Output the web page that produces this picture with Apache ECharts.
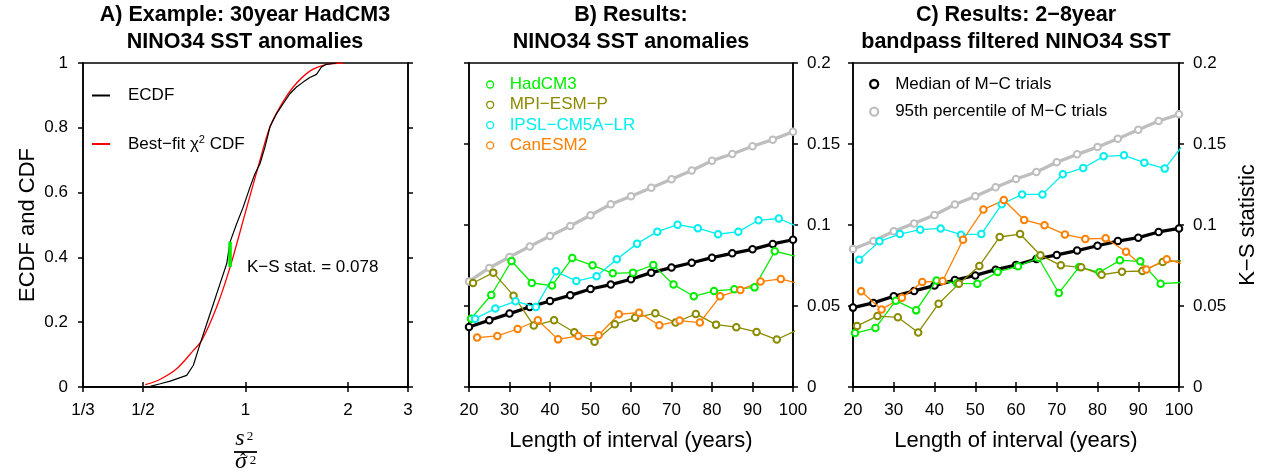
<!DOCTYPE html>
<html>
<head>
<meta charset="utf-8">
<script src="https://cdn.jsdelivr.net/npm/echarts@6/dist/echarts.min.js"></script>
<style>
  html, body { margin: 0; padding: 0; background: #fff; }
  #chart { width: 1267px; height: 474px; }
</style>
</head>
<body>
<div id="chart"></div>
<script>
// ---- panel A: ECDF vs best-fit chi^2 CDF (30 yr HadCM3) ----
const ecdfX = [0.525, 0.562, 0.601, 0.643, 0.672, 0.703, 0.736, 0.770, 0.805, 0.842, 0.881, 0.901, 0.942, 0.985, 1.031, 1.066, 1.103, 1.141, 1.180, 1.234, 1.291, 1.350, 1.412, 1.477, 1.545, 1.616, 1.672, 1.729, 1.850]
const ecdfY = [0.002, 0.010, 0.018, 0.029, 0.036, 0.067, 0.134, 0.196, 0.257, 0.319, 0.381, 0.448, 0.504, 0.556, 0.617, 0.658, 0.689, 0.741, 0.803, 0.844, 0.875, 0.905, 0.926, 0.941, 0.955, 0.965, 0.988, 0.996, 1.000]
const cdfX = [0.508, 0.562, 0.629, 0.703, 0.744, 0.823, 0.901, 0.997, 1.103, 1.180, 1.262, 1.381, 1.545, 1.729, 1.935]
const cdfY = [0.007, 0.024, 0.057, 0.113, 0.144, 0.247, 0.370, 0.535, 0.700, 0.803, 0.864, 0.926, 0.975, 0.996, 1.000]
const ksX = 0.901
const ksY = [0.370, 0.448]
const ksStat = 0.078
const xTicksA = [1 / 3, 1 / 2, 1, 2, 3]
const xTickLabelsA = ['1/3', '1/2', '1', '2', '3']

// ---- panels B and C: K-S statistic vs interval length ----
const lengths = [20, 25, 30, 35, 40, 45, 50, 55, 60, 65, 70, 75, 80, 85, 90, 95, 100]
const models = ['HadCM3', 'MPI−ESM−P', 'IPSL−CM5A−LR', 'CanESM2']
const modelShift = [0.5, 1, 1.5, 2] // models drawn slightly offset in x
const mcNames = ['Median of M−C trials', '95th percentile of M−C trials']

const medianB = [0.0370, 0.0412, 0.0453, 0.0494, 0.0531, 0.0566, 0.0605, 0.0632, 0.0665, 0.0706, 0.0737, 0.0767, 0.0798, 0.0825, 0.0850, 0.0883, 0.0909]
const pct95B = [0.0652, 0.0735, 0.0802, 0.0868, 0.0932, 0.0994, 0.1060, 0.1128, 0.1177, 0.1230, 0.1282, 0.1337, 0.1397, 0.1438, 0.1486, 0.1527, 0.1576]
const hadB = [0.0422, 0.0568, 0.0778, 0.0642, 0.0626, 0.0796, 0.0751, 0.0702, 0.0706, 0.0753, 0.0632, 0.0560, 0.0593, 0.0603, 0.0615, 0.0838, 0.0808]
const mpiB = [0.0642, 0.0706, 0.0564, 0.0379, 0.0412, 0.0338, 0.0280, 0.0387, 0.0428, 0.0455, 0.0398, 0.0451, 0.0385, 0.0369, 0.0340, 0.0293, 0.0352]
const ipslB = [0.0422, 0.0484, 0.0529, 0.0494, 0.0714, 0.0654, 0.0683, 0.0788, 0.0885, 0.0959, 0.1002, 0.0980, 0.0943, 0.0959, 0.1029, 0.1040, 0.0986]
const canB = [0.0305, 0.0315, 0.0358, 0.0412, 0.0294, 0.0315, 0.0319, 0.0449, 0.0459, 0.0381, 0.0410, 0.0398, 0.0560, 0.0599, 0.0651, 0.0667, 0.0635]

const medianC = [0.0490, 0.0519, 0.0560, 0.0593, 0.0626, 0.0660, 0.0689, 0.0724, 0.0753, 0.0790, 0.0815, 0.0842, 0.0872, 0.0901, 0.0922, 0.0957, 0.0979]
const pct95C = [0.0852, 0.0901, 0.0961, 0.1010, 0.1062, 0.1126, 0.1177, 0.1233, 0.1284, 0.1327, 0.1387, 0.1436, 0.1481, 0.1533, 0.1588, 0.1642, 0.1683]
const hadC = [0.0333, 0.0364, 0.0533, 0.0473, 0.0658, 0.0640, 0.0638, 0.0710, 0.0745, 0.0798, 0.0580, 0.0741, 0.0708, 0.0782, 0.0776, 0.0638, 0.0645]
const mpiC = [0.0377, 0.0438, 0.0430, 0.0337, 0.0514, 0.0638, 0.0747, 0.0926, 0.0944, 0.0813, 0.0751, 0.0739, 0.0693, 0.0712, 0.0716, 0.0772, 0.0780]
const ipslC = [0.0786, 0.0899, 0.0944, 0.0971, 0.0979, 0.0940, 0.0944, 0.1128, 0.1189, 0.1189, 0.1313, 0.1352, 0.1424, 0.1430, 0.1385, 0.1348, 0.1510]
const canC = [0.0591, 0.0479, 0.0551, 0.0648, 0.0654, 0.0909, 0.1095, 0.1154, 0.1031, 0.0998, 0.0942, 0.0914, 0.0918, 0.0835, 0.0726, 0.0788, 0.0753]

const modelColors = ['#00ee00', '#8b8b00', '#00eeee', '#ff7f00']
const mcColors = ['#000000', '#bebebe']

const FONT = '"Liberation Sans", Arial, Helvetica, sans-serif'
const SERIF = '"Liberation Serif", "DejaVu Serif", serif'
const axLine = { show: true, lineStyle: { color: '#000', width: 1.5 } }
const axTick = { show: true, length: 5, lineStyle: { color: '#000', width: 1.5 } }
const lab = { color: '#000', fontSize: 17, fontFamily: FONT }
const fmtNum = v => String(parseFloat(Number(v).toFixed(3)))

function zip(xs, ys) {
  return xs.map((x, i) => [x, ys[i]])
}

function mcSeries(k, vals, xi) {
  return {
    type: 'line', name: mcNames[k], xAxisIndex: xi, yAxisIndex: xi,
    data: zip(lengths, vals),
    symbol: 'emptyCircle', symbolSize: 6.5, z: 2,
    lineStyle: { color: mcColors[k], width: 3.3 },
    itemStyle: { color: mcColors[k], borderColor: mcColors[k], borderWidth: 2.3 }
  }
}

function modelSeries(k, vals, xi) {
  return {
    type: 'line', name: models[k], xAxisIndex: xi, yAxisIndex: xi,
    data: vals.map((v, i) => [lengths[i] + modelShift[k], v]),
    symbol: 'emptyCircle', symbolSize: 6.5, z: 3, clip: true,
    lineStyle: { color: modelColors[k], width: 1.3 },
    itemStyle: { color: modelColors[k], borderColor: modelColors[k], borderWidth: 1.3 }
  }
}

function lenAxis(grid, top) {
  return {
    gridIndex: grid, type: 'value', min: 20, max: 100, interval: 10,
    position: top ? 'top' : 'bottom',
    axisLine: axLine, axisTick: axTick, splitLine: { show: false },
    axisLabel: top ? { show: false } : Object.assign({ margin: 15 }, lab),
    name: top ? '' : 'Length of interval (years)',
    nameLocation: 'middle', nameGap: 43,
    nameTextStyle: { color: '#000', fontSize: 22, fontFamily: FONT }
  }
}

function ksAxis(grid, right, withName) {
  return {
    gridIndex: grid, type: 'value', min: 0, max: 0.2, interval: 0.05,
    position: right ? 'right' : 'left',
    axisLine: axLine, axisTick: axTick, splitLine: { show: false },
    axisLabel: right ? Object.assign({ margin: 14, formatter: fmtNum }, lab) : { show: false },
    name: withName ? 'K−S statistic' : '',
    nameLocation: 'middle', nameRotate: 90, nameGap: 58,
    nameTextStyle: { color: '#000', fontSize: 22, fontFamily: FONT }
  }
}

function ratioAxis(top) {
  return {
    gridIndex: 0, type: 'log', logBase: 3, min: 1 / 3, max: 3,
    position: top ? 'top' : 'bottom',
    axisLine: axLine, splitLine: { show: false }, minorTick: { show: false },
    axisTick: Object.assign({ customValues: xTicksA }, axTick),
    axisLabel: top ? { show: false } : Object.assign({
      margin: 15,
      customValues: xTicksA,
      formatter: v => {
        const i = xTicksA.findIndex(t => Math.abs(t - v) < 1e-6)
        return i >= 0 ? xTickLabelsA[i] : ''
      }
    }, lab)
  }
}

// math-style x label of panel A: s^2 over sigma-hat^2
function mathText(x, y, txt, size, italic) {
  return {
    type: 'text', x: x, y: y,
    style: {
      text: txt, fill: '#000', fontSize: size, fontFamily: SERIF,
      fontStyle: italic ? 'italic' : 'normal', align: 'center', verticalAlign: 'middle'
    }
  }
}

const chart = echarts.init(document.getElementById('chart'), null, { renderer: 'canvas' })

const titleStyle = { color: '#000', fontSize: 21.5, fontWeight: 'bold', lineHeight: 27, fontFamily: FONT }

chart.setOption({
  animation: false,
  backgroundColor: '#fff',
  textStyle: { fontFamily: FONT },
  title: [
    { text: 'A) Example: 30year HadCM3\nNINO34 SST anomalies', left: 245, top: 1.5, textAlign: 'center', padding: 0, textStyle: titleStyle },
    { text: 'B) Results:\nNINO34 SST anomalies', left: 631, top: 1.5, textAlign: 'center', padding: 0, textStyle: titleStyle },
    { text: 'C) Results: 2−8year\nbandpass filtered NINO34 SST', left: 1016, top: 1.5, textAlign: 'center', padding: 0, textStyle: titleStyle }
  ],
  grid: [
    { left: 83, top: 63, width: 325, height: 324, show: true, borderColor: '#000', borderWidth: 1.5, outerBoundsMode: 'none' },
    { left: 469, top: 63, width: 324, height: 324, show: true, borderColor: '#000', borderWidth: 1.5, outerBoundsMode: 'none' },
    { left: 853, top: 63, width: 326, height: 324, show: true, borderColor: '#000', borderWidth: 1.5, outerBoundsMode: 'none' }
  ],
  xAxis: [
    ratioAxis(false), lenAxis(1, false), lenAxis(2, false),
    ratioAxis(true), lenAxis(1, true), lenAxis(2, true)
  ],
  yAxis: [
    {
      gridIndex: 0, type: 'value', min: 0, max: 1, interval: 0.2,
      axisLine: axLine, axisTick: axTick, splitLine: { show: false },
      axisLabel: Object.assign({ margin: 15, formatter: fmtNum }, lab),
      name: 'ECDF and CDF', nameLocation: 'middle', nameRotate: 90, nameGap: 44,
      nameTextStyle: { color: '#000', fontSize: 22, fontFamily: FONT }
    },
    ksAxis(1, true, false), ksAxis(2, true, true),
    {
      gridIndex: 0, type: 'value', min: 0, max: 1, interval: 0.2, position: 'right',
      axisLine: axLine, axisTick: axTick, splitLine: { show: false }, axisLabel: { show: false }
    },
    ksAxis(1, false, false), ksAxis(2, false, false)
  ],
  legend: [
    {
      selectedMode: false, orient: 'vertical', left: 92, top: 87, padding: 0,
      itemWidth: 18, itemHeight: 2, itemGap: 30,
      data: [
        { name: 'ECDF', icon: 'rect', itemStyle: { color: '#000' } },
        { name: 'Best-fit chi2 CDF', icon: 'rect', itemStyle: { color: '#ff0000' } }
      ],
      formatter: name => name === 'ECDF' ? '{t|ECDF}' : '{t|Best−fit χ}{s|2}{t| CDF}',
      textStyle: {
        color: '#000', padding: [0, 0, 0, 13],
        rich: {
          t: { fontSize: 17, lineHeight: 20, color: '#000', fontFamily: FONT },
          s: { fontSize: 11, lineHeight: 20, verticalAlign: 'top', color: '#000', fontFamily: FONT }
        }
      }
    },
    {
      selectedMode: false, orient: 'vertical', left: 486, top: 76, padding: 0,
      itemWidth: 7, itemHeight: 7, itemGap: 3.3,
      data: models.map((m, k) => ({
        name: m, icon: 'circle',
        itemStyle: { color: '#fff', borderColor: modelColors[k], borderWidth: 1.3 },
        textStyle: { color: modelColors[k], fontSize: 17, fontFamily: FONT, padding: [0, 0, 0, 11] }
      }))
    },
    {
      selectedMode: false, orient: 'vertical', left: 869, top: 75.5, padding: 0,
      itemWidth: 8, itemHeight: 8, itemGap: 10.7,
      data: mcNames.map((m, k) => ({
        name: m, icon: 'circle',
        itemStyle: { color: '#fff', borderColor: mcColors[k], borderWidth: 2.3 },
        textStyle: { color: '#000', fontSize: 17, fontFamily: FONT, padding: [0, 0, 0, 12] }
      }))
    }
  ],
  series: [
    {
      type: 'line', name: 'Best-fit chi2 CDF', xAxisIndex: 0, yAxisIndex: 0,
      data: zip(cdfX, cdfY), symbol: 'none', smooth: 0.3,
      lineStyle: { color: '#ff0000', width: 1.3 }, itemStyle: { color: '#ff0000' }
    },
    {
      type: 'line', name: 'ECDF', xAxisIndex: 0, yAxisIndex: 0,
      data: zip(ecdfX, ecdfY), symbol: 'none',
      lineStyle: { color: '#000', width: 1.2 }, itemStyle: { color: '#000' }
    },
    {
      type: 'line', name: 'K-S distance', xAxisIndex: 0, yAxisIndex: 0,
      data: ksY.map(y => [ksX, y]), symbol: 'none', z: 4,
      lineStyle: { color: '#00ee00', width: 3.5 }
    },
    mcSeries(1, pct95B, 1), mcSeries(0, medianB, 1),
    modelSeries(0, hadB, 1), modelSeries(1, mpiB, 1), modelSeries(2, ipslB, 1), modelSeries(3, canB, 1),
    mcSeries(1, pct95C, 2), mcSeries(0, medianC, 2),
    modelSeries(0, hadC, 2), modelSeries(1, mpiC, 2), modelSeries(2, ipslC, 2), modelSeries(3, canC, 2)
  ],
  graphic: [
    {
      type: 'text', left: 247, top: 259,
      style: { text: 'K−S stat. = ' + ksStat.toFixed(3), fill: '#000', fontSize: 17, fontFamily: FONT }
    },
    mathText(240, 439, 's', 24, true),
    mathText(250, 437, '2', 13, false),
    { type: 'line', shape: { x1: 234, y1: 452, x2: 257, y2: 452 }, style: { stroke: '#000', lineWidth: 1.8 } },
    mathText(241, 462, 'σ', 24, true),
    mathText(243, 461, 'ˆ', 18, false),
    mathText(253, 460.5, '2', 13, false)
  ]
})
</script>
</body>
</html>
